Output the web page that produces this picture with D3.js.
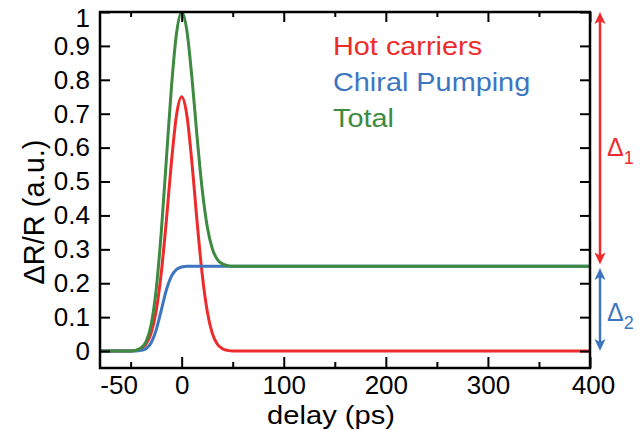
<!DOCTYPE html>
<html>
<head>
<meta charset="utf-8">
<script src="https://cdn.jsdelivr.net/npm/d3@7"></script>
<style>
  body { margin: 0; background: #fff; }
  svg text { font-family: "Liberation Sans", Arial, Helvetica, sans-serif; }
</style>
</head>
<body>
<script>
// delay (ps) and the three signals
var times = [-80, -60, -50, -45, -40, -35, -30, -25, -20, -15, -10, -5, 0, 5, 10, 15, 20, 25, 30, 35, 40, 45, 50, 60, 80, 100, 200, 300, 400];
var hotCarriers = [0, 0, 0, 0.002, 0.007, 0.020, 0.052, 0.118, 0.230, 0.385, 0.558, 0.697, 0.750, 0.697, 0.558, 0.385, 0.230, 0.118, 0.052, 0.020, 0.007, 0.002, 0, 0, 0, 0, 0, 0, 0];
var chiralPumping = [0, 0, 0, 0, 0.002, 0.007, 0.024, 0.062, 0.120, 0.180, 0.221, 0.241, 0.248, 0.250, 0.250, 0.250, 0.250, 0.250, 0.250, 0.250, 0.250, 0.250, 0.250, 0.250, 0.250, 0.250, 0.250, 0.250, 0.250];
var total = [0, 0, 0, 0.002, 0.009, 0.027, 0.076, 0.180, 0.350, 0.565, 0.779, 0.938, 1.0, 0.947, 0.808, 0.635, 0.480, 0.368, 0.302, 0.270, 0.257, 0.252, 0.250, 0.250, 0.250, 0.250, 0.250, 0.250, 0.250];

var seriesNames = ["Hot carriers", "Chiral Pumping", "Total"];
var xMajorTicks = [0, 100, 200, 300, 400];
var xMinorTicks = [-50, 50, 150, 250, 350];
var yTicks = [0, 0.1, 0.2, 0.3, 0.4, 0.5, 0.6, 0.7, 0.8, 0.9, 1];
// the two arrows on the right: [from, to] in ΔR/R
var delta1 = [1, 0.255];
var delta2 = [0.245, 0];

function load() {
	var W = 643, H = 430;
	var margin = {top: 12, right: 53, bottom: 62, left: 100},
			width = W - margin.left - margin.right,
			height = H - margin.top - margin.bottom;

	var colors = ["#ee2b2b", "#3d76bf", "#3d8a40"];
	var series = [hotCarriers, chiralPumping, total];

	var svg = d3.select("body").append("svg")
		.attr("width", W)
		.attr("height", H);

	var g = svg.append("g")
		.attr("transform", "translate(" + margin.left + "," + margin.top + ")");

	var x = d3.scaleLinear().domain([-80, 400]).range([0, width]);
	var y = d3.scaleLinear().domain([-0.05, 1]).range([height, 0]);

	// clip for curves
	svg.append("defs").append("clipPath").attr("id", "clip")
		.append("rect").attr("width", width).attr("height", height);

	var line = d3.line()
		.x(function(d, i) { return x(times[i]); })
		.y(function(d) { return y(d); })
		.curve(d3.curveMonotoneX);

	g.append("g").attr("clip-path", "url(#clip)")
		.selectAll("path")
		.data(series)
		.enter().append("path")
			.attr("d", line)
			.attr("fill", "none")
			.attr("stroke", function(d, i) { return colors[i]; })
			.attr("stroke-width", 3);

	// axes: ticks pointing inward
	function styleAxis(sel) {
		sel.select(".domain").remove();
		sel.selectAll("line").attr("stroke", "#000").attr("stroke-width", 2);
		sel.selectAll("text").attr("fill", "#000").style("font-size", "26px");
	}

	g.append("g")
		.attr("transform", "translate(0," + height + ")")
		.call(d3.axisBottom(x).tickValues(xMajorTicks).tickSize(-11).tickPadding(8).tickFormat(d3.format("d")))
		.call(styleAxis)
		.selectAll("text")
			.attr("dx", function(d) { return d == 400 ? 3 : 0; });
	g.append("g")
		.attr("transform", "translate(0," + height + ")")
		.call(d3.axisBottom(x).tickValues(xMinorTicks).tickSize(-6).tickPadding(8)
			.tickFormat(function(d) { return d == -50 ? "-50" : ""; }))
		.call(styleAxis)
		.selectAll("text")
			.attr("dx", -12);
	g.append("g")
		.call(d3.axisTop(x).tickValues(xMajorTicks).tickSize(-10).tickFormat(""))
		.call(styleAxis);
	g.append("g")
		.call(d3.axisTop(x).tickValues(xMinorTicks).tickSize(-5).tickFormat(""))
		.call(styleAxis);

	var yAxis = g.append("g")
		.call(d3.axisLeft(y).tickValues(yTicks).tickSize(-10).tickPadding(10)
			.tickFormat(function(d) { return (d == 0 || d == 1) ? d3.format("d")(d) : d3.format(".1f")(d); }))
		.call(styleAxis);
	// top label sits a bit lower, as in the original
	yAxis.selectAll("text").filter(function(d) { return d == 1; }).attr("y", 6);

	g.append("g")
		.attr("transform", "translate(" + width + ",0)")
		.call(d3.axisRight(y).tickValues(yTicks).tickSize(-10).tickFormat(""))
		.call(styleAxis);

	// frame
	g.append("rect")
		.attr("width", width)
		.attr("height", height)
		.attr("fill", "none")
		.attr("stroke", "#000")
		.attr("stroke-width", 2.5);

	// axis titles
	svg.append("text")
		.attr("transform", "translate(331,424) scale(1.12,1)")
		.attr("text-anchor", "middle")
		.style("font-size", "26px")
		.text("delay (ps)");

	svg.append("text")
		.attr("transform", "translate(44," + (margin.top + y(0.41)) + ") rotate(-90)")
		.attr("text-anchor", "middle")
		.style("font-size", "29px")
		.text("ΔR/R (a.u.)");

	// legend
	g.selectAll(".legend_text")
		.data(seriesNames)
		.enter().append("text")
			.attr("class", "legend_text")
			.attr("transform", function(d, i) { return "translate(233," + (43 + i * 36) + ") scale(1.11,1)"; })
			.attr("fill", function(d, i) { return colors[i]; })
			.style("font-size", "26px")
			.text(function(d) { return d; });

	// double arrows on the right
	var ax = width + 10;
	function arrow(range, col, label, labelY) {
		var y0 = y(range[0]), y1 = y(range[1]);
		var a = g.append("g");
		a.append("line")
			.attr("x1", ax).attr("x2", ax)
			.attr("y1", y0 + 6).attr("y2", y1 - 6)
			.attr("stroke", col).attr("stroke-width", 2.5);
		a.append("path")
			.attr("d", "M" + ax + "," + y0 + "l-5.5,12l5.5,-3l5.5,3z")
			.attr("fill", col);
		a.append("path")
			.attr("d", "M" + ax + "," + y1 + "l-5.5,-12l5.5,3l5.5,-3z")
			.attr("fill", col);
		var t = a.append("text")
			.attr("x", ax + 7)
			.attr("y", y(labelY))
			.attr("fill", col)
			.style("font-size", "25px")
			.text("Δ");
		t.append("tspan")
			.attr("dy", 8)
			.style("font-size", "18px")
			.text(label);
	}
	arrow(delta1, colors[0], "1", 0.575);
	arrow(delta2, colors[1], "2", 0.09);
}
load();
</script>
</body>
</html>
